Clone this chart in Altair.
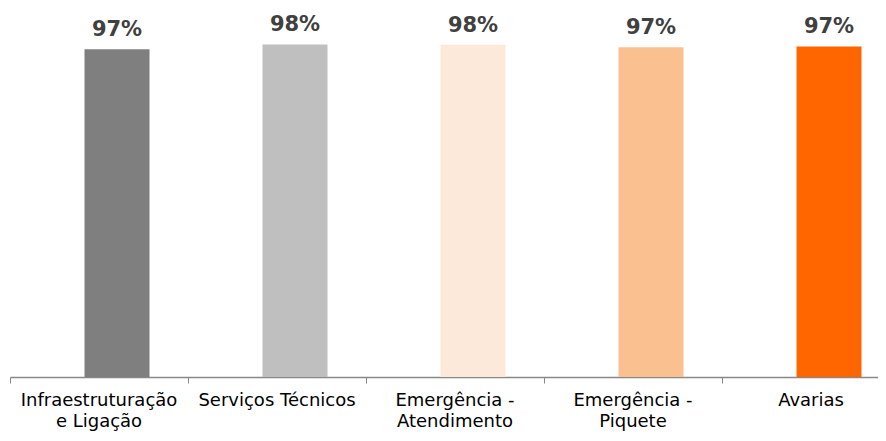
import altair as alt
import pandas as pd

categories = ["Infraestruturação e Ligação", "Serviços Técnicos", "Emergência - Atendimento",
              "Emergência - Piquete", "Avarias"]
values = [96.7, 98.1, 98.0, 97.3, 97.5]
labels = ["97%", "98%", "98%", "97%", "97%"]
colors = ["#7f7f7f", "#bfbfbf", "#fde9d9", "#fac090", "#ff6600"]

df = pd.DataFrame({"cat": categories, "val": values, "lab": labels})

x = alt.X("cat:N", sort=categories, title=None,
          scale=alt.Scale(range=[0, 890], paddingInner=0, paddingOuter=0),
          axis=alt.Axis(labelAngle=0, labelExpr="split(datum.label, ' e ').length > 1 ? ['Infraestruturação', 'e Ligação'] : (indexof(datum.label, ' - ') > 0 ? [split(datum.label, ' - ')[0] + ' -', split(datum.label, ' - ')[1]] : datum.label)",
                        bandPosition=0, tickSize=6, tickColor="#888888", domainColor="#888888",
                        domainWidth=1.5, labelPadding=8, labelFontSize=18,
                        labelFont="DejaVu Sans", labelColor="#000000",
                        labelLineHeight=21, labelOverlap=False, labelBaseline="top"))
y = alt.Y("val:Q", scale=alt.Scale(domain=[0, 100], nice=False), axis=None)

bars = alt.Chart(df).mark_bar(width=65, xOffset=18).encode(
    x=x, y=y,
    color=alt.Color("cat:N", sort=categories, scale=alt.Scale(domain=categories, range=colors), legend=None),
)
text = alt.Chart(df).mark_text(xOffset=18, dy=-13, baseline="alphabetic", fontSize=21,
                               fontWeight="bold", font="DejaVu Sans", color="#404040").encode(
    x=x, y=y, text="lab:N")

chart = alt.layer(bars, text).properties(
    width=868, height=339,
    autosize=alt.AutoSizeParams(type="none"),
    padding={"left": 2, "top": 30, "right": 0, "bottom": 56},
).configure_view(stroke=None)

chart.save("out.html", embed_options={"renderer": "svg", "actions": False})
